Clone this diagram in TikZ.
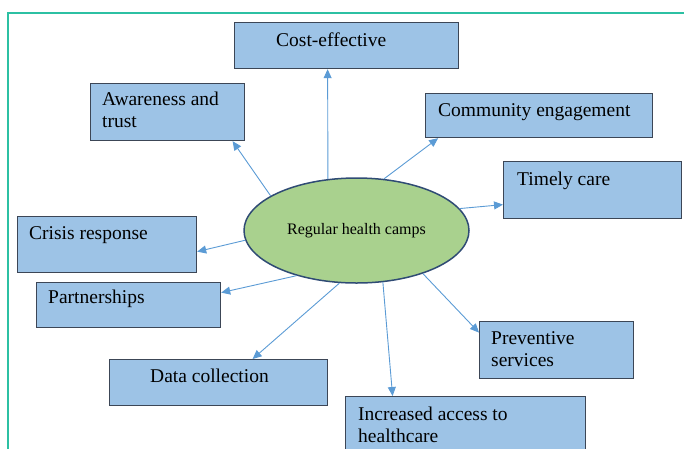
\documentclass[tikz,border=0pt]{standalone}
\usepackage{fontspec}
\setmainfont{Liberation Serif}
\usetikzlibrary{shapes,arrows.meta}

\definecolor{boxblue}{HTML}{9DC3E6}
\definecolor{boxline}{HTML}{3C4656}
\definecolor{hubgreen}{HTML}{A9D18E}
\definecolor{hubline}{HTML}{2F4B74}
\definecolor{arrowblue}{HTML}{5B9BD5}
\definecolor{frameteal}{HTML}{2CC0A3}

\tikzset{
	camp box/.style={draw=boxline, line width=1.2pt, fill=boxblue, rectangle, anchor=north west, inner sep=0pt},
	camp text/.style={anchor=base west, inner sep=0pt, align=left, font=\fontsize{19.5}{22}\selectfont},
	camp arrow/.style={arrowblue, line width=0.9pt, -{Triangle[length=9pt,width=8pt]}},
}

\begin{document}
\begin{tikzpicture}[x=1pt, y=-1pt]
	\useasboundingbox (0,0) rectangle (684,448);
	\clip (0,0) rectangle (684,448);
	\draw[frameteal, line width=1.5pt] (8,13) rectangle (720,480);

	% centre
	\node[ellipse, draw=hubline, line width=1.5pt, fill=hubgreen, minimum width=225pt, minimum height=105pt, inner sep=0pt, font=\fontsize{16}{18}\selectfont] (hub) at (356.5,230.5) {Regular health camps};

	% outcome boxes
	\node[camp box, minimum width=224pt, minimum height=46pt] (cost) at (234,22) {};
	\node[camp box, minimum width=154pt, minimum height=57pt] (aware) at (90,83) {};
	\node[camp box, minimum width=227pt, minimum height=44pt] (comm) at (425,93) {};
	\node[camp box, minimum width=178pt, minimum height=57pt] (timely) at (503,161) {};
	\node[camp box, minimum width=179pt, minimum height=56pt] (crisis) at (17,216) {};
	\node[camp box, minimum width=184pt, minimum height=45pt] (partner) at (36,282) {};
	\node[camp box, minimum width=218pt, minimum height=46pt] (data) at (109,359) {};
	\node[camp box, minimum width=154pt, minimum height=57pt] (prevent) at (479,321) {};
	\node[camp box, minimum width=240pt, minimum height=80pt] (access) at (345,396) {};

	% labels (base = last line)
	\node[camp text] (cost-t) at ([xshift=42pt,yshift=-24pt]cost.north west) {Cost-effective};
	\node[camp text] (aware-t) at ([xshift=12pt,yshift=-44pt]aware.north west) {Awareness and\\trust};
	\node[camp text] (comm-t) at ([xshift=13pt,yshift=-23pt]comm.north west) {Community engagement};
	\node[camp text] (timely-t) at ([xshift=14pt,yshift=-24pt]timely.north west) {Timely care};
	\node[camp text] (crisis-t) at ([xshift=12pt,yshift=-23pt]crisis.north west) {Crisis response};
	\node[camp text] (partner-t) at ([xshift=12pt,yshift=-21pt]partner.north west) {Partnerships};
	\node[camp text] (data-t) at ([xshift=41pt,yshift=-23pt]data.north west) {Data collection};
	\node[camp text] (prevent-t) at ([xshift=12pt,yshift=-45pt]prevent.north west) {Preventive\\services};
	\node[camp text] (access-t) at ([xshift=13pt,yshift=-46pt]access.north west) {Increased access to\\healthcare};

	% arrows out of the centre
	\draw[camp arrow] (hub.119) -- ([xshift=-19pt]cost.south);
	\draw[camp arrow] (hub.158) -- ([xshift=65pt]aware.south);
	\draw[camp arrow] (hub.62) -- ([xshift=-101pt]comm.south);
	\draw[camp arrow] (hub.12) -- ([yshift=-14.5pt]timely.west);
	\draw[camp arrow] (hub.185) -- ([yshift=-7pt]crisis.east);
	\draw[camp arrow] (hub.217) -- ([yshift=12.5pt]partner.east);
	\draw[camp arrow] (hub.252) -- ([xshift=34pt]data.north);
	\draw[camp arrow] (hub.327) -- ([yshift=17.5pt]prevent.west);
	\draw[camp arrow] (hub.297) -- ([xshift=-73pt]access.north);
\end{tikzpicture}
\end{document}
